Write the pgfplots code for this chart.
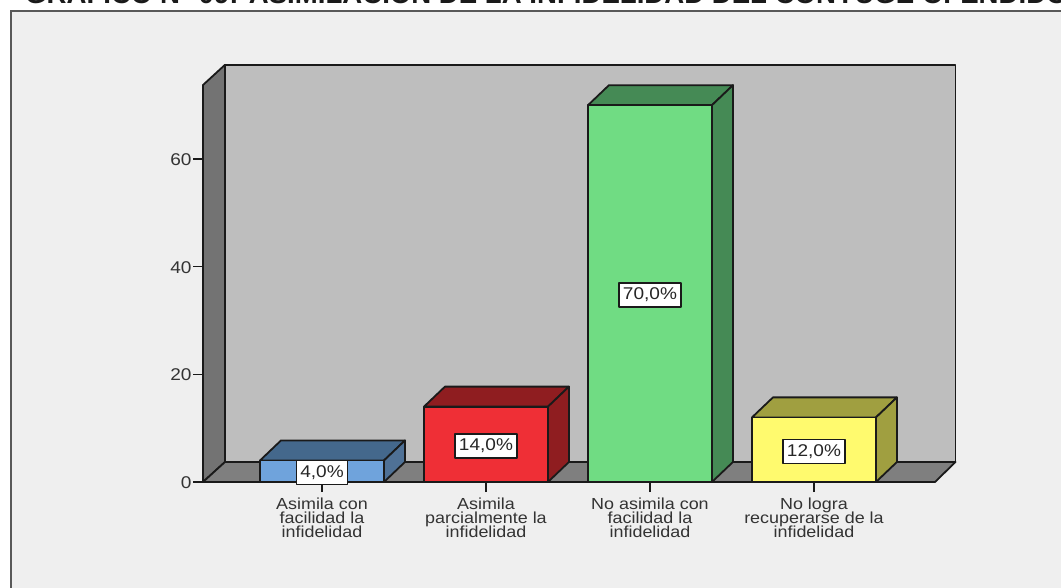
\documentclass[border=0pt]{standalone}
\usepackage{fontspec}
\setmainfont{Liberation Sans}
\newfontfamily\widefont[FakeStretch=1.12]{Liberation Sans}
\usepackage{pgfplots}
\pgfplotsset{compat=1.18}

% one category = 164 px, one percent = 5.383 px
\definecolor{panel}{HTML}{EFEFEF}
\definecolor{wall}{HTML}{BEBEBE}
\definecolor{side}{HTML}{737373}
\definecolor{floorc}{HTML}{7F7F7F}
\definecolor{edge}{HTML}{1A1A1A}
\definecolor{blueF}{HTML}{6FA3DC}
\definecolor{blueT}{HTML}{44688C}
\definecolor{blueS}{HTML}{4F7196}
\definecolor{redF}{HTML}{EF2F36}
\definecolor{redT}{HTML}{8F1D20}
\definecolor{greenF}{HTML}{70DC83}
\definecolor{greenT}{HTML}{458A55}
\definecolor{yellowF}{HTML}{FFFA6E}
\definecolor{yellowT}{HTML}{A09F40}

\begin{document}
\lineskiplimit=-10pt
\begin{tikzpicture}[x=1pt,y=1pt]
  \path[use as bounding box,clip] (0,0) rectangle (1061,587);
  \fill[white] (0,0) rectangle (1061,587);
  \fill[panel] (11,-5) rectangle (1070,576);
  \draw[black!65,line width=1.6pt] (11,-5) -- (11,576) -- (1070,576);
  \node[anchor=base west,inner sep=0pt,font=\bfseries\fontsize{27.6}{28}\selectfont,text=edge]
    at (25,583.5) {GRÁFICO N° 09: ASIMILACIÓN DE LA INFIDELIDAD DEL CÓNYUGE OFENDIDO};

  \begin{axis}[
      at={(203pt,105pt)},
      anchor=south west,
      scale only axis,
      width=732pt,
      height=397pt,
      xmin=-0.7256, xmax=3.738,
      ymin=0, ymax=73.75,
      clip=false,
      axis lines=left,
      axis line style={-,edge,line width=1.8pt},
      tick align=outside,
      major tick length=10pt,
      tick style={edge,line width=1.6pt},
      xtick={0,1,2,3},
      ytick={0,20,40,60},
      xticklabels={{Asimila con\\facilidad la\\infidelidad},
                   {Asimila\\parcialmente la\\infidelidad},
                   {No asimila con\\facilidad la\\infidelidad},
                   {No logra\\recuperarse de la\\infidelidad}},
      xticklabel style={align=center,anchor=north,font=\widefont\fontsize{16}{14}\selectfont,text=black!80,yshift=-2pt},
      yticklabel style={font=\widefont\fontsize{17}{17}\selectfont,text=black!80,xshift=2pt,yshift=-0.5pt},
      /pgf/number format/assume math mode=true,
      every axis plot/.append style={line width=1.8pt,line join=round},
    ]
    % back wall, left wall, floor
    \addplot[draw=edge,fill=wall] coordinates {(-0.5915,3.72) (3.863,3.72) (3.863,77.5) (-0.5915,77.5)} -- cycle;
    \addplot[draw=edge,fill=side] coordinates {(-0.7256,0) (-0.5915,3.72) (-0.5915,77.5) (-0.7256,73.75)} -- cycle;
    \addplot[draw=edge,fill=floorc] coordinates {(-0.7256,0) (-0.5915,3.72) (3.863,3.72) (3.738,0)} -- cycle;

    % Asimila con facilidad: 4
    \addplot[draw=edge,fill=blueT] coordinates {(-0.378,4) (-0.25,7.72) (0.506,7.72) (0.378,4)} -- cycle;
    \addplot[draw=edge,fill=blueS] coordinates {(0.378,0) (0.506,3.72) (0.506,7.72) (0.378,4)} -- cycle;
    \addplot[draw=edge,fill=blueF] coordinates {(-0.378,0) (0.378,0) (0.378,4) (-0.378,4)} -- cycle;

    % Asimila parcialmente: 14
    \addplot[draw=edge,fill=redT] coordinates {(0.622,14) (0.75,17.72) (1.506,17.72) (1.378,14)} -- cycle;
    \addplot[draw=edge,fill=redT] coordinates {(1.378,0) (1.506,3.72) (1.506,17.72) (1.378,14)} -- cycle;
    \addplot[draw=edge,fill=redF] coordinates {(0.622,0) (1.378,0) (1.378,14) (0.622,14)} -- cycle;

    % No asimila: 70
    \addplot[draw=edge,fill=greenT] coordinates {(1.622,70) (1.75,73.72) (2.506,73.72) (2.378,70)} -- cycle;
    \addplot[draw=edge,fill=greenT] coordinates {(2.378,0) (2.506,3.72) (2.506,73.72) (2.378,70)} -- cycle;
    \addplot[draw=edge,fill=greenF] coordinates {(1.622,0) (2.378,0) (2.378,70) (1.622,70)} -- cycle;

    % No logra recuperarse: 12
    \addplot[draw=edge,fill=yellowT] coordinates {(2.622,12) (2.75,15.72) (3.506,15.72) (3.378,12)} -- cycle;
    \addplot[draw=edge,fill=yellowT] coordinates {(3.378,0) (3.506,3.72) (3.506,15.72) (3.378,12)} -- cycle;
    \addplot[draw=edge,fill=yellowF] coordinates {(2.622,0) (3.378,0) (3.378,12) (2.622,12)} -- cycle;

    % value labels sit at half the bar height
    \addplot[draw=none,mark=none,
      nodes near coords,
      point meta=explicit symbolic,
      nodes near coords align={center},
      every node near coord/.append style={
        anchor=center,yshift=-1.5pt,fill=white,draw=edge,line width=1.4pt,
        font=\widefont\fontsize{17}{17}\selectfont,text=black!85,
        inner xsep=4pt,inner ysep=2pt,minimum height=24pt},
    ] coordinates {
      (0,2) [4,0\%]
      (1,7) [14,0\%]
      (2,35) [70,0\%]
      (3,6) [12,0\%]
    };
  \end{axis}
\end{tikzpicture}
\end{document}
